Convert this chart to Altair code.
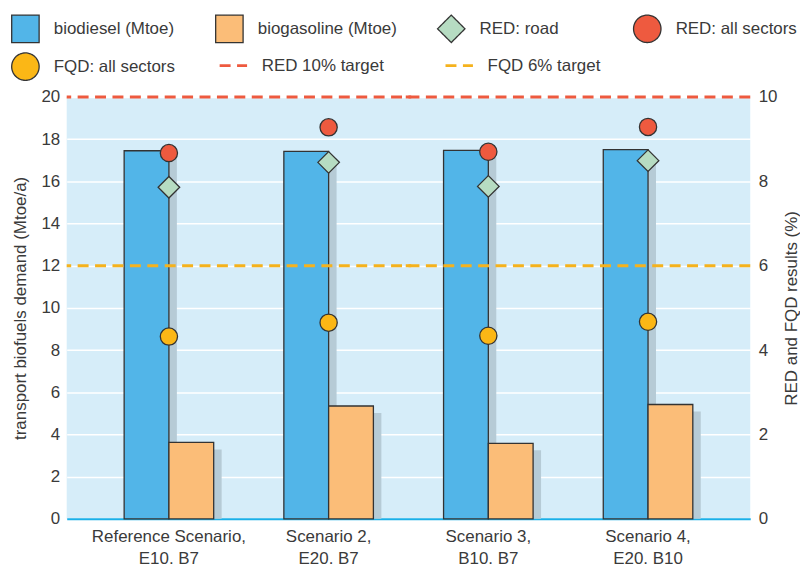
import altair as alt
import pandas as pd

FONT = "Liberation Sans"
TXT = "#3a3a3a"
FS = 17

scenarios = ["Reference Scenario,|E10. B7", "Scenario 2,|E20. B7",
             "Scenario 3,|B10. B7", "Scenario 4,|E20. B10"]
biodiesel = [17.45, 17.42, 17.47, 17.50]
biogasoline = [3.62, 5.35, 3.58, 5.42]
red_road = [7.86, 8.45, 7.88, 8.49]
red_all = [8.67, 9.28, 8.70, 9.29]
fqd_all = [4.32, 4.65, 4.34, 4.67]
target_values = [10, 6]

items = ["biodiesel (Mtoe)", "biogasoline (Mtoe)", "RED: road", "RED: all sectors",
         "FQD: all sectors", "RED 10% target", "FQD 6% target"]
fills = ["#52b5e8", "#fbbd78", "#b6dcc2", "#ee5a3f", "#fbb716", "#ee5a3f", "#f5b21d"]
strokes = ["#333333"] * 5 + ["#ee5a3f", "#f5b21d"]
shapes = ["square", "square", "diamond", "circle", "circle", "stroke", "stroke"]
dashes = [[1, 0]] * 5 + [[11, 6.5], [11, 6.5]]
widths = [1.3] * 5 + [3, 3]

bars = pd.DataFrame({
    "scenario": scenarios * 2,
    "item": [items[0]] * 4 + [items[1]] * 4,
    "value": biodiesel + biogasoline,
})
markers = pd.DataFrame({
    "scenario": scenarios * 3,
    "item": [items[2]] * 4 + [items[3]] * 4 + [items[4]] * 4,
    "value": red_road + red_all + fqd_all,
})
targets = pd.DataFrame({"item": [items[5], items[6]], "value": target_values})

leg = alt.Legend(title=None, orient="none", legendX=-57, legendY=-83, columns=4,
                 gridAlign="none", columnPadding=38, rowPadding=5, symbolSize=760,
                 labelFontSize=FS, labelFont=FONT, labelColor=TXT, labelOffset=13,
                 direction="horizontal", padding=0)

fill_enc = alt.Fill("item:N", scale=alt.Scale(domain=items, range=fills), legend=leg)
stroke_enc = alt.Stroke("item:N", scale=alt.Scale(domain=items, range=strokes), legend=leg)
shape_enc = alt.Shape("item:N", scale=alt.Scale(domain=items, range=shapes), legend=leg)
dash_enc = alt.StrokeDash("item:N", scale=alt.Scale(domain=items, range=dashes), legend=leg)
sw_enc = alt.StrokeWidth("item:N", scale=alt.Scale(type="ordinal", domain=items, range=widths),
                         legend=leg)

x_enc = alt.X("scenario:N", sort=scenarios,
              scale=alt.Scale(paddingInner=0, paddingOuter=0.14),
              axis=alt.Axis(title=None, labelExpr="split(datum.label, '|')", labelAngle=0,
                            ticks=False, domainColor="#1ab0e8", domainWidth=2,
                            labelFontSize=FS, labelPadding=10, labelLineHeight=22,
                            labelFont=FONT, labelColor=TXT))

y_left = alt.Y("value:Q", scale=alt.Scale(domain=[0, 20], nice=False),
               axis=alt.Axis(values=list(range(0, 21, 2)),
                             title="transport biofuels demand (Mtoe/a)",
                             grid=True, gridColor="white", gridWidth=1.5,
                             domain=False, ticks=False, labelPadding=7, titlePadding=12,
                             labelFontSize=FS, titleFontSize=FS, labelFont=FONT,
                             titleFont=FONT, labelColor=TXT, titleColor=TXT,
                             titleFontWeight="normal"))
y_right = alt.Y("value:Q", scale=alt.Scale(domain=[0, 10], nice=False),
                axis=alt.Axis(orient="right", values=list(range(0, 11, 2)),
                              title="RED and FQD results (%)", titleAngle=270,
                              grid=False, domain=False, ticks=False, labelPadding=8,
                              titlePadding=24, labelFontSize=FS, titleFontSize=FS,
                              labelFont=FONT, titleFont=FONT, labelColor=TXT,
                              titleColor=TXT, titleFontWeight="normal"))

base_bars = alt.Chart(bars)
shadow_layers = []
bar_layers = []
for name, off in [(items[0], -22.5), (items[1], 22.5)]:
    shadow_layers.append(
        base_bars.transform_filter(alt.datum.item == name)
        .mark_bar(width=45, xOffset=off + 8, yOffset=7, color="#b6cbd6")
        .encode(x=x_enc, y=y_left, y2=alt.Y2(datum=0))
    )
    bar_layers.append(
        base_bars.transform_filter(alt.datum.item == name)
        .mark_bar(width=45, xOffset=off)
        .encode(x=x_enc, y=y_left, fill=fill_enc, stroke=stroke_enc, shape=shape_enc,
                strokeWidth=sw_enc)
    )

left = alt.layer(*shadow_layers, *bar_layers)

rules = alt.Chart(targets).mark_rule().encode(
    y=y_right, stroke=stroke_enc, strokeDash=dash_enc, fill=fill_enc, shape=shape_enc,
    strokeWidth=sw_enc)

base_m = alt.Chart(markers)
diamonds = base_m.transform_filter(alt.datum.item == items[2]).mark_point(
    filled=True, opacity=1, size=470).encode(
    x=x_enc, y=y_right, fill=fill_enc, stroke=stroke_enc, shape=shape_enc,
    strokeWidth=sw_enc)
circles = base_m.transform_filter(alt.datum.item != items[2]).mark_point(
    filled=True, opacity=1, size=300).encode(
    x=x_enc, y=y_right, fill=fill_enc, stroke=stroke_enc, shape=shape_enc,
    strokeWidth=sw_enc)

right = alt.layer(rules, diamonds, circles)

chart = alt.layer(left, right).resolve_scale(y="independent").properties(
    width=687, height=424,
    padding={"left": 2, "top": 5, "right": 0, "bottom": 0},
).configure_view(fill="#d6edf9", stroke=None)

chart.save("out.html", embed_options={"renderer": "svg", "actions": False})
